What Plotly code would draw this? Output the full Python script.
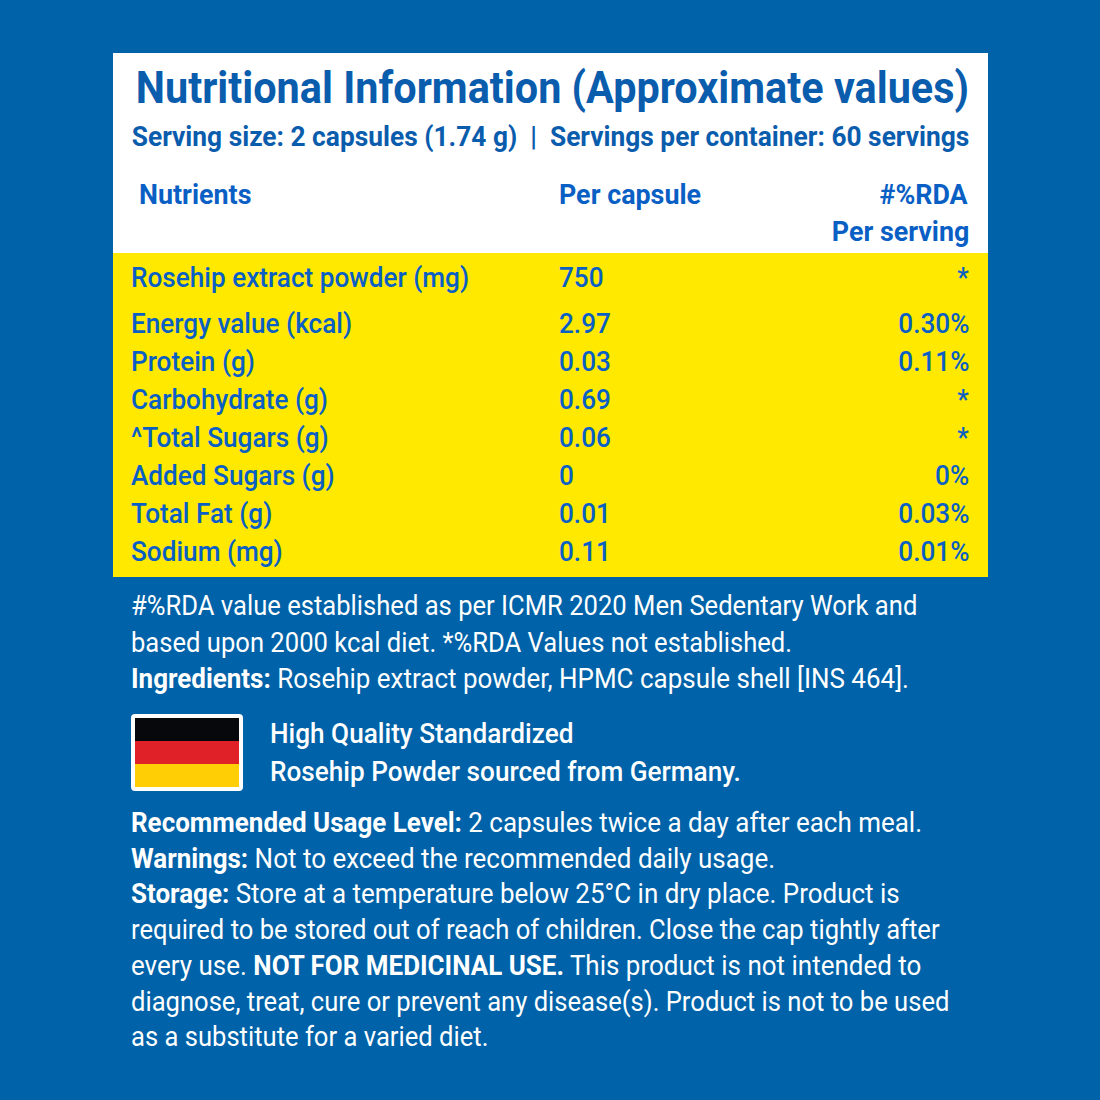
import plotly.graph_objects as go

BLUE = "#0062A8"
TITLE_BLUE = "#0A5CAD"
ROW_BLUE = "#0A5FC4"
YELLOW = "#FFE900"
FONT = "Roboto"

title = "Nutritional Information (Approximate values)"
serving = "Serving size: 2 capsules (1.74 g)  |  Servings per container: 60 servings"
nutrients = ["Rosehip extract powder (mg)", "Energy value (kcal)", "Protein (g)", "Carbohydrate (g)",
             "^Total Sugars (g)", "Added Sugars (g)", "Total Fat (g)", "Sodium (mg)"]
per_capsule = ["750", "2.97", "0.03", "0.69", "0.06", "0", "0.01", "0.11"]
rda = ["*", "0.30%", "0.11%", "*", "*", "0%", "0.03%", "0.01%"]
row_y = [277.5, 323.5, 361.5, 399.5, 437.5, 475.5, 513.5, 551.5]

notes = [
    (605.5, "#%RDA value established as per ICMR 2020 Men Sedentary Work and"),
    (642.5, "based upon 2000 kcal diet. *%RDA Values not established."),
    (678.5, "<b>Ingredients:</b> Rosehip extract powder, HPMC capsule shell [INS 464]."),
    (822.5, "<b>Recommended Usage Level:</b> 2 capsules twice a day after each meal."),
    (858.5, "<b>Warnings:</b> Not to exceed the recommended daily usage."),
    (893.5, "<b>Storage:</b> Store at a temperature below 25°C in dry place. Product is"),
    (929.5, "required to be stored out of reach of children. Close the cap tightly after"),
    (965.5, "every use. <b>NOT FOR MEDICINAL USE.</b> This product is not intended to"),
    (1001.5, "diagnose, treat, cure or prevent any disease(s). Product is not to be used"),
    (1036.5, "as a substitute for a varied diet."),
]
flag_lines = [(733.5, "High Quality Standardized"), (771.5, "Rosehip Powder sourced from Germany.")]

FLAG_OUTLINE = "M135,714 H239 Q243,714 243,718 V787 Q243,791 239,791 H135 Q131,791 131,787 V718 Q131,714 135,714 Z"
shapes = [
    dict(type="rect", x0=113, x1=988, y0=53, y1=253, fillcolor="white", line_width=0, layer="below"),
    dict(type="rect", x0=113, x1=988, y0=253, y1=577, fillcolor=YELLOW, line_width=0, layer="below"),
    dict(type="path", path=FLAG_OUTLINE, fillcolor="white", line_width=0, layer="below"),
    dict(type="rect", x0=135, x1=239, y0=718, y1=741, fillcolor="#07080C", line_width=0, layer="below"),
    dict(type="rect", x0=135, x1=239, y0=741, y1=764, fillcolor="#E02228", line_width=0, layer="below"),
    dict(type="rect", x0=135, x1=239, y0=764, y1=787, fillcolor="#FFCE05", line_width=0, layer="below"),
]
ann = []
def text(x, y, s, size, color, anchor="left", bold=False, weight=400):
    ann.append(dict(x=x, y=y, text=f"<b>{s}</b>" if bold else s, xref="x", yref="y", showarrow=False,
                    xanchor=anchor, yanchor="middle", align=anchor, borderpad=0,
                    font=dict(family=FONT, size=size, color=color, weight=weight)))

text(969.5, 87, title, 45, TITLE_BLUE, "right", True)
text(969.5, 136.5, serving, 27, TITLE_BLUE, "right", True)
text(137.5, 194.5, "Nutrients", 27, ROW_BLUE, "left", True)
text(558, 194.5, "Per capsule", 27, ROW_BLUE, "left", True)
text(970, 194.5, "#%RDA", 27, ROW_BLUE, "right", True)
text(970, 231.5, "Per serving", 27, ROW_BLUE, "right", True)
for y, n, p, r in zip(row_y, nutrients, per_capsule, rda):
    text(130, y, n, 27, ROW_BLUE, "left", weight=500)
    text(558, y, p, 27, ROW_BLUE, "left", weight=500)
    text(969.5, y, r, 27, ROW_BLUE, "right", weight=500)
for y, s in notes:
    text(130, y, s, 27, "white")
for y, s in flag_lines:
    text(269, y, s, 27, "white", weight=500)

fig = go.Figure(go.Scatter(x=[], y=[]))
fig.update_layout(width=1100, height=1100, margin=dict(l=0, r=0, t=0, b=0), paper_bgcolor=BLUE, plot_bgcolor=BLUE,
                  showlegend=False, shapes=shapes, annotations=ann,
                  xaxis=dict(range=[0, 1100], visible=False, fixedrange=True),
                  yaxis=dict(range=[1100, 0], visible=False, fixedrange=True))

# The label's typeface is slightly narrower than Roboto: squeeze each text about its own anchor.
post = """
document.body.style.margin = '0';
document.querySelectorAll('.annotation-text').forEach(function (t) {
  var size = parseFloat(t.style.fontSize), weight = t.style.fontWeight, white = /255, 255, 255/.test(t.style.fill);
  var hasBold = t.querySelector('tspan') !== null && /font-weight:\\s*bold/.test(t.innerHTML);
  var S;
  if (size > 40) S = 0.92;
  else if (white) S = weight == '500' ? 0.97 : (hasBold ? 0.962 : 0.948);
  else if (weight == '500') S = 0.969;
  else S = t.textContent.length > 30 ? 0.975 : 0.995;
  var x = parseFloat(t.getAttribute('x')) || 0;
  t.setAttribute('transform', 'translate(' + x + ',0) scale(' + S + ',1) translate(' + (-x) + ',0)');
});
"""
fig.write_html("out.html", config={"displayModeBar": False}, post_script=post)
